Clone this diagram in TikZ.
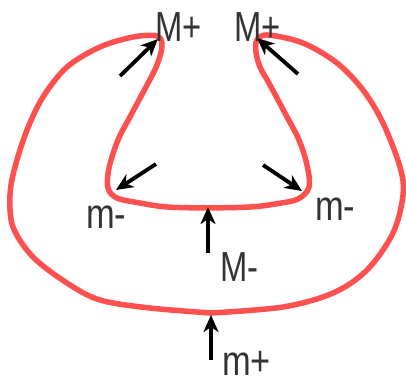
\documentclass[tikz,border=0pt]{standalone}
\usepackage{fontspec}
\setmainfont{Liberation Sans}
\usetikzlibrary{arrows.meta}
\definecolor{curvered}{RGB}{255,80,80}
\definecolor{labelgray}{RGB}{51,51,51}
\begin{document}
\begin{tikzpicture}[x=1pt,y=-1pt,
  curve/.style={draw=curvered,line width=5.5pt,line join=round,line cap=round},
  arr/.style={line width=3.8pt,-{Stealth[length=17pt,width=15pt,inset=5pt]}},
  lbl/.style={anchor=base west,inner sep=0pt,text depth=0pt,text=labelgray,font=\fontsize{42}{50}\selectfont}]
\useasboundingbox (0,0) rectangle (406,378);
% curve
\draw[curve] plot[smooth,tension=0.55] coordinates {(208,208) (167,207) (140,203) (117,198) (108,188) (109,168) (118,140) (131,115) (147,85) (157,65) (162,46) (157,36) (133,37) (100,47) (67,67) (43,97) (27,130) (15,167) (10,195) (13,227) (33,257) (67,283) (100,300) (150,308) (211,313)};
\draw[curve] plot[smooth,tension=0.55] coordinates {(211,313) (283,307) (333,293) (367,270) (393,233) (403,195) (400,167) (383,123) (363,90) (337,63) (303,43) (268,35) (257,40) (256,52) (260,67) (270,85) (286,115) (299,140) (307,165) (309,187) (298,199) (275,204) (250,207) (208,208)};
% arrow coordinates
\coordinate (a1s) at (120,76); \coordinate (a1e) at (158,39);
\coordinate (a2s) at (298,74); \coordinate (a2e) at (257,38);
\coordinate (a3s) at (156,164); \coordinate (a3e) at (116,190);
\coordinate (a4s) at (263,165); \coordinate (a4e) at (302,191);
\coordinate (a5s) at (208,253); \coordinate (a5e) at (208,207);
\coordinate (a6s) at (211,360); \coordinate (a6e) at (211,315);
\draw[arr] (a1s) -- (a1e);
\draw[arr] (a2s) -- (a2e);
\draw[arr] (a3s) -- (a3e);
\draw[arr] (a4s) -- (a4e);
\draw[arr] (a5s) -- (a5e);
\draw[arr] (a6s) -- (a6e);
% labels
\node[lbl] (lMp) at (155,41) {\scalebox{0.78}[1]{M+}};
\node[lbl] (rMp) at (234,41) {\scalebox{0.78}[1]{M+}};
\node[lbl] (lmm) at (86,228) {\scalebox{0.82}[1]{m-}};
\node[lbl] (rmm) at (315,220) {\scalebox{0.82}[1]{m-}};
\node[lbl] (Mm) at (220,281) {\scalebox{0.78}[1]{M-}};
\node[lbl] (mp) at (222,375) {\scalebox{0.82}[1]{m+}};
\end{tikzpicture}
\end{document}
